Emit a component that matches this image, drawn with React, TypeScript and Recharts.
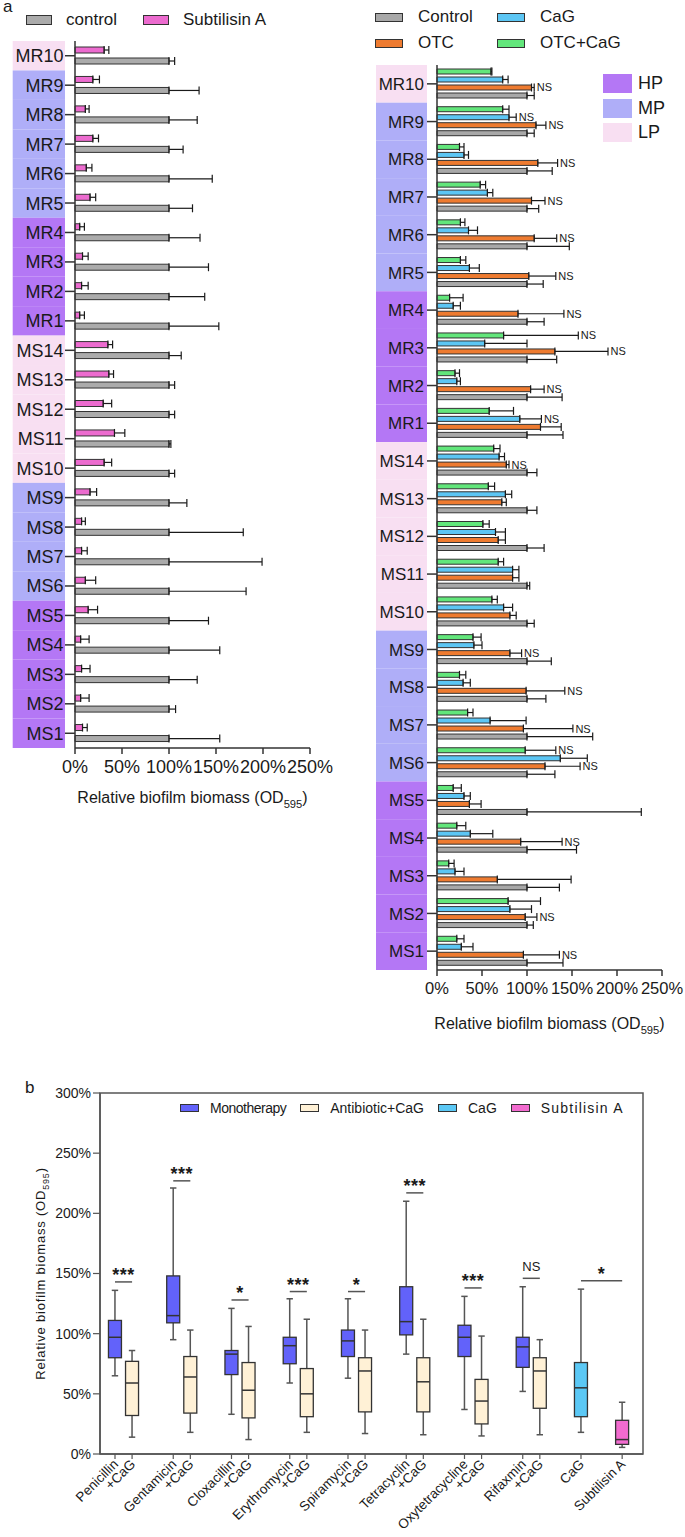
import React from 'react';
import {
  Bar,
  BarChart,
  ComposedChart,
  ErrorBar,
  LabelList,
  Legend,
  ReferenceArea,
  ReferenceLine,
  XAxis,
  YAxis,
} from 'recharts';

const FONT = '"Liberation Sans", Arial, Helvetica, sans-serif';
const INK = '#1a1a1a';
const EDGE = '#333333';

// ---------- panel a : strains, top to bottom ----------
const strains = [
  'MR10', 'MR9', 'MR8', 'MR7', 'MR6', 'MR5', 'MR4', 'MR3', 'MR2', 'MR1',
  'MS14', 'MS13', 'MS12', 'MS11', 'MS10', 'MS9', 'MS8', 'MS7', 'MS6', 'MS5', 'MS4', 'MS3', 'MS2', 'MS1',
];
const highProducers = ['MR4', 'MR3', 'MR2', 'MR1', 'MS5', 'MS4', 'MS3', 'MS2', 'MS1'];
const moderateProducers = ['MR9', 'MR8', 'MR7', 'MR6', 'MR5', 'MS9', 'MS8', 'MS7', 'MS6'];
const tiers = [
  { name: 'HP', color: '#B477F5' },
  { name: 'MP', color: '#AFAEF8' },
  { name: 'LP', color: '#F8DFF2' },
];

// left: control vs Subtilisin A (% of control)
const controlA = [100, 100, 100, 100, 100, 100, 100, 100, 100, 100, 100, 100, 100, 100, 100, 100, 100, 100, 100, 100, 100, 100, 100, 100];
const controlASd = [6, 32, 30, 15, 46, 25, 33, 42, 38, 53, 13, 6, 6, 2, 6, 19, 79, 99, 82, 42, 54, 30, 7, 54];
const subtilisinA = [31, 19, 11, 19, 12, 16, 5, 8, 7, 5, 35, 36, 30, 42, 31, 16, 7, 7, 11, 14, 6, 7, 6, 8];
const subtilisinASd = [5, 7, 4, 6, 6, 6, 5, 6, 7, 5, 5, 5, 9, 11, 8, 7, 4, 6, 11, 10, 9, 9, 9, 5];

// right: control, OTC, CaG, OTC+CaG
const controlB = [100, 100, 100, 100, 100, 100, 100, 100, 100, 100, 100, 100, 100, 100, 100, 100, 100, 100, 100, 100, 100, 100, 100, 100];
const controlBSd = [8, 8, 28, 13, 47, 18, 19, 33, 39, 40, 11, 11, 19, 3, 8, 27, 21, 73, 31, 127, 55, 36, 7, 40];
const otc = [105, 110, 112, 105, 108, 102, 90, 131, 104, 115, 77, 72, 68, 84, 81, 81, 99, 96, 120, 36, 93, 67, 98, 96];
const otcSd = [3, 11, 22, 15, 25, 30, 51, 59, 15, 23, 3, 5, 8, 7, 7, 13, 43, 55, 39, 13, 46, 82, 13, 40];
const cag = [73, 80, 30, 56, 35, 36, 18, 53, 22, 92, 69, 76, 65, 84, 74, 41, 29, 59, 137, 30, 37, 20, 81, 27];
const cagSd = [6, 8, 5, 6, 10, 11, 8, 47, 4, 24, 6, 7, 11, 7, 10, 9, 8, 40, 30, 7, 25, 10, 24, 13];
const otcCag = [60, 73, 25, 48, 26, 26, 14, 74, 20, 58, 63, 57, 51, 68, 61, 40, 25, 34, 98, 18, 22, 13, 79, 22];
const otcCagSd = [1, 7, 5, 6, 5, 6, 15, 83, 5, 27, 7, 7, 7, 6, 6, 9, 7, 6, 34, 9, 10, 6, 36, 8];
const nsOtc = ['MR10', 'MR9', 'MR8', 'MR7', 'MR6', 'MR5', 'MR4', 'MR3', 'MR2', 'MS14', 'MS9', 'MS8', 'MS7', 'MS6', 'MS4', 'MS2', 'MS1'];
const nsCag = ['MR9', 'MR1'];
const nsOtcCag = ['MR3', 'MS6'];

const pctTicks = [0, 50, 100, 150, 200, 250];

// ---------- panel b : box plots ----------
const drugs = ['Penicillin', 'Gentamicin', 'Cloxacillin', 'Erythromycin', 'Spiramycin', 'Tetracyclin', 'Oxytetracycline', 'Rifaxmin'];
const monoMin = [65, 95, 33, 59, 63, 83, 37, 52];
const monoQ1 = [80, 109, 66, 75, 81, 99, 81, 72];
const monoMed = [97, 115, 83, 90, 94, 110, 97, 89];
const monoQ3 = [111, 148, 86, 97, 103, 139, 107, 97];
const monoMax = [136, 221, 121, 129, 129, 210, 131, 139];
const comboMin = [14, 18, 12, 18, 17, 16, 15, 16];
const comboQ1 = [32, 34, 30, 31, 35, 35, 25, 38];
const comboMed = [59, 64, 53, 50, 69, 60, 44, 69];
const comboQ3 = [77, 81, 76, 71, 80, 80, 62, 80];
const comboMax = [86, 103, 106, 112, 103, 112, 98, 95];
// [min, q1, median, q3, max]
const cagAlone = [18, 31, 55, 76, 137];
const subtilisinAlone = [5.5, 8, 12, 28, 43];
const sigMarks = ['***', '***', '*', '***', '*', '***', '***', 'NS', '*'];
const sigHeights = [143, 227, 128, 135, 135, 217, 138, 146, 144];

const boxKinds = [
  { kind: 'mono', name: 'Monotherapy', color: '#6262FA' },
  { kind: 'combo', name: 'Antibiotic+CaG', color: '#FFF1D6' },
  { kind: 'cag', name: 'CaG', color: '#5BC8F5' },
  { kind: 'sub', name: 'Subtilisin A', color: '#F26BCF' },
];

type BoxRow = { key: string; label: string; kind: string; min: number; q1: number; med: number; q3: number; max: number; pos: number };

const GROUP_STEP = 2.41; // gap between groups, in units of the gap inside a pair
const fromTuple = (key: string, kind: string, t: number[]) => ({ key, label: key, kind, min: t[0], q1: t[1], med: t[2], q3: t[3], max: t[4] });
const boxGroups = [
  ...drugs.map((d, i) => [
    { key: d, label: d, kind: 'mono', min: monoMin[i], q1: monoQ1[i], med: monoMed[i], q3: monoQ3[i], max: monoMax[i] },
    { key: `${d} +CaG`, label: '+CaG', kind: 'combo', min: comboMin[i], q1: comboQ1[i], med: comboMed[i], q3: comboQ3[i], max: comboMax[i] },
  ]),
  [fromTuple('CaG', 'cag', cagAlone)],
  [fromTuple('Subtilisin A', 'sub', subtilisinAlone)],
];
const boxRows: BoxRow[] = [];
let cursor = 0;
boxGroups.forEach((g) => {
  g.forEach((b, j) => boxRows.push({ ...b, pos: cursor + j }));
  cursor += g.length - 1 + GROUP_STEP;
});
const posOf = (key: string) => boxRows.find((r) => r.key === key)!.pos;
const sigPairs = [...drugs.map((d) => [d, `${d} +CaG`]), ['CaG', 'Subtilisin A']];
const xMin = -0.878;
const xMax = 30.91;

// ---------- tables ----------
const leftRows = strains.map((s, i) => ({
  strain: s,
  control: controlA[i],
  controlErr: [0, controlASd[i]],
  subtilisin: subtilisinA[i],
  subtilisinErr: [0, subtilisinASd[i]],
}));
const rightRows = strains.map((s, i) => ({
  strain: s,
  control: controlB[i],
  controlErr: [0, controlBSd[i]],
  otc: otc[i],
  otcErr: [0, otcSd[i]],
  cag: cag[i],
  cagErr: [0, cagSd[i]],
  otcCag: otcCag[i],
  otcCagErr: [0, otcCagSd[i]],
}));

const tierColor = (s: string) =>
  highProducers.includes(s) ? tiers[0].color : moderateProducers.includes(s) ? tiers[1].color : tiers[2].color;

function strainTick(bandLeft: number, bandH: number, margin: number, fontSize: number) {
  return (props: any) => {
    const { x, y, payload } = props;
    const right = x + margin;
    return (
      <g>
        <rect x={bandLeft} y={y - bandH / 2} width={right - bandLeft} height={bandH} fill={tierColor(payload.value)} />
        <text x={x} y={y} dy="0.36em" textAnchor="end" fontSize={fontSize} fill={INK} fontFamily={FONT}>
          {payload.value}
        </text>
      </g>
    );
  };
}

function AxisTitle(props: any) {
  const { viewBox, dy = 55, fontSize = 16 } = props;
  const { x, y, width } = viewBox;
  return (
    <text x={x + width / 2} y={y + dy} textAnchor="middle" fontSize={fontSize} fill={INK} fontFamily={FONT}>
      Relative biofilm biomass (OD
      <tspan dy={5} fontSize={fontSize * 0.7}>595</tspan>
      <tspan dy={-5}>)</tspan>
    </text>
  );
}

function nsMarker(values: number[], sd: number[], flagged: string[]) {
  return (props: any) => {
    const { index } = props;
    const vb = props.viewBox ?? props;
    const { x, y, width, height } = vb;
    if (index == null || !flagged.includes(strains[index])) return null;
    const end = x + width + (width / values[index]) * sd[index];
    return (
      <text x={end + 2.5} y={y + height / 2} dy="0.36em" fontSize={11} fill={INK} fontFamily={FONT}>
        NS
      </text>
    );
  };
}

const swatch = (color: string, w: number, h: number, border = true) => (
  <span
    style={{
      display: 'inline-block',
      width: w,
      height: h,
      background: color,
      border: border ? `1px solid ${EDGE}` : 'none',
      boxSizing: 'border-box',
    }}
  />
);

const leftOrder = ['control', 'Subtilisin A'];
function LeftLegend(props: any) {
  const items = [...(props.payload ?? [])].sort((a: any, b: any) => leftOrder.indexOf(a.value) - leftOrder.indexOf(b.value));
  return (
    <div style={{ display: 'flex', alignItems: 'center', height: 18, paddingLeft: 26, fontFamily: FONT }}>
      {items.map((it: any) => (
        <div key={it.value} style={{ display: 'flex', alignItems: 'center', marginRight: 26 }}>
          {swatch(it.color, 26, 10)}
          <span style={{ marginLeft: 14, fontSize: 17, color: INK }}>{it.value}</span>
        </div>
      ))}
    </div>
  );
}

const rightGrid = ['Control', 'CaG', 'OTC', 'OTC+CaG'];
function RightLegend(props: any) {
  const colors = new Map((props.payload ?? []).map((p: any) => [p.value, p.color]));
  return (
    <div style={{ position: 'relative', width: 345, height: 150, fontFamily: FONT }}>
      {rightGrid.map((name, i) => (
        <div
          key={name}
          style={{ position: 'absolute', left: i % 2 === 0 ? 35 : 157, top: i < 2 ? 8 : 34, height: 18, display: 'flex', alignItems: 'center' }}
        >
          {swatch(colors.get(name) as string, 28, 9)}
          <span style={{ marginLeft: 15, fontSize: 17, color: INK }}>{name}</span>
        </div>
      ))}
      {tiers.map((t, i) => (
        <div key={t.name} style={{ position: 'absolute', left: 263, top: 74 + i * 24.5, height: 19, display: 'flex', alignItems: 'center' }}>
          {swatch(t.color, 29, 19, false)}
          <span style={{ marginLeft: 6, fontSize: 18, color: INK }}>{t.name}</span>
        </div>
      ))}
    </div>
  );
}

function BoxLegend() {
  return (
    <div style={{ display: 'flex', alignItems: 'center', height: 16, fontFamily: FONT, fontSize: 14, color: INK }}>
      {boxKinds.map((k) => (
        <div key={k.kind} style={{ display: 'flex', alignItems: 'center', marginRight: 14 }}>
          {swatch(k.color, 19, 8)}
          <span style={{ marginLeft: 11, letterSpacing: k.kind === 'sub' ? 1.2 : k.kind === 'mono' ? -0.5 : 0 }}>{k.name}</span>
        </div>
      ))}
    </div>
  );
}

function BoxShape(props: any) {
  const { x, y, width, height, payload } = props;
  const { q1, q3, med, min, max, kind } = payload;
  const ppu = height / (q3 - q1);
  const cx = x + width / 2;
  const yHi = y - (max - q3) * ppu;
  const yLo = y + height + (q1 - min) * ppu;
  const yMed = y + (q3 - med) * ppu;
  const fill = boxKinds.find((k) => k.kind === kind)!.color;
  const cap = 3.2;
  return (
    <g>
      <line x1={cx} x2={cx} y1={yHi} y2={y} stroke="#555" strokeWidth={1.5} />
      <line x1={cx} x2={cx} y1={y + height} y2={yLo} stroke="#555" strokeWidth={1.5} />
      <line x1={cx - cap} x2={cx + cap} y1={yHi} y2={yHi} stroke="#555" strokeWidth={1.5} />
      <line x1={cx - cap} x2={cx + cap} y1={yLo} y2={yLo} stroke="#555" strokeWidth={1.5} />
      <rect x={x} y={y} width={width} height={height} fill={fill} stroke={EDGE} strokeWidth={1.3} />
      <line x1={x} x2={x + width} y1={yMed} y2={yMed} stroke={EDGE} strokeWidth={1.5} />
    </g>
  );
}

function BoxTick(props: any) {
  const { x, y, payload } = props;
  const row = boxRows.find((r) => Math.abs(r.pos - payload.value) < 1e-6);
  if (!row) return null;
  const ax = x + 4;
  const ay = y + 4;
  return (
    <text x={ax} y={ay} textAnchor="end" transform={`rotate(-45 ${ax} ${ay})`} fontSize={13.5} fill={INK} fontFamily={FONT}>
      {row.label}
    </text>
  );
}

function BoxYTitle(props: any) {
  const { viewBox } = props;
  const cx = 45;
  const cy = viewBox.y + viewBox.height / 2;
  return (
    <text x={cx} y={cy} transform={`rotate(-90 ${cx} ${cy})`} textAnchor="middle" fontSize={13} letterSpacing={0.8} fill={INK} fontFamily={FONT}>
      Relative biofilm biomass (OD
      <tspan dy={4} fontSize={9}>595</tspan>
      <tspan dy={-4}>)</tspan>
    </text>
  );
}

function SigLabel(props: any) {
  const { viewBox, mark } = props;
  const cx = viewBox.x + viewBox.width / 2;
  const star = mark !== 'NS';
  return (
    <text
      x={cx}
      y={viewBox.y - (star ? 0.5 : 7)}
      textAnchor="middle"
      fontSize={star ? 18 : 13}
      fontWeight={star ? 'bold' : 'normal'}
      letterSpacing={star ? 0.5 : 0}
      fill={INK}
      fontFamily={FONT}
    >
      {mark}
    </text>
  );
}

const axisStyle = { stroke: EDGE, strokeWidth: 1.5 };

export default function App() {
  const leftBand = (810 - 41 - 62) / strains.length;
  const rightBand = (1040 - 65 - 70) / strains.length;
  return (
    <div style={{ position: 'absolute', left: 0, top: 0, width: 685, height: 1537, background: '#fff', fontFamily: FONT }}>
      <div style={{ position: 'absolute', left: 3, top: -3, fontSize: 17, color: INK }}>a</div>
      <div style={{ position: 'absolute', left: 25, top: 1078, fontSize: 17, color: INK }}>b</div>

      <div style={{ position: 'absolute', left: 0, top: 0 }}>
        <BarChart
          width={340}
          height={810}
          data={leftRows}
          layout="vertical"
          margin={{ top: 41, right: 30, bottom: 0, left: 0 }}
          barSize={6}
          barGap={5}
          style={{ fontFamily: FONT }}
        >
          <XAxis
            type="number"
            domain={[0, 250]}
            ticks={pctTicks}
            interval={0}
            tickFormatter={(v) => `${v}%`}
            height={62}
            tickSize={6}
            tickMargin={6}
            tick={{ fontSize: 18, fill: INK, fontFamily: FONT }}
            axisLine={axisStyle}
            tickLine={axisStyle}
            label={<AxisTitle dy={55} />}
          />
          <YAxis
            type="category"
            dataKey="strain"
            width={75}
            interval={0}
            tickSize={10}
            tickMargin={1.5}
            tick={strainTick(12.7, leftBand, 1.5, 18)}
            axisLine={axisStyle}
            tickLine={axisStyle}
          />
          <Legend layout="horizontal" verticalAlign="middle" align="center" wrapperStyle={{ top: 11, left: 0, width: 340 }} content={LeftLegend} />
          <Bar dataKey="subtilisin" name="Subtilisin A" fill="#EC6BCF" stroke={EDGE} strokeWidth={1} isAnimationActive={false}>
            <ErrorBar dataKey="subtilisinErr" direction="x" width={4} stroke={INK} strokeWidth={1.2} />
          </Bar>
          <Bar dataKey="control" name="control" fill="#ABABAB" stroke={EDGE} strokeWidth={1} isAnimationActive={false}>
            <ErrorBar dataKey="controlErr" direction="x" width={4} stroke={INK} strokeWidth={1.2} />
          </Bar>
        </BarChart>
      </div>

      <div style={{ position: 'absolute', left: 340, top: 0 }}>
        <BarChart
          width={345}
          height={1040}
          data={rightRows}
          layout="vertical"
          margin={{ top: 65, right: 23, bottom: 0, left: 0 }}
          barSize={5}
          barGap={3}
          style={{ fontFamily: FONT }}
        >
          <XAxis
            type="number"
            domain={[0, 250]}
            ticks={pctTicks}
            interval={0}
            tickFormatter={(v) => `${v}%`}
            height={70}
            tickSize={6}
            tickMargin={6}
            tick={{ fontSize: 16.5, fill: INK, fontFamily: FONT }}
            axisLine={axisStyle}
            tickLine={axisStyle}
            label={<AxisTitle dy={59} />}
          />
          <YAxis
            type="category"
            dataKey="strain"
            width={97}
            interval={0}
            tickSize={10}
            tickMargin={3}
            tick={strainTick(36, rightBand, 3, 17)}
            axisLine={axisStyle}
            tickLine={axisStyle}
          />
          <Legend layout="horizontal" verticalAlign="middle" align="center" wrapperStyle={{ top: 0, left: 0, width: 345 }} content={RightLegend} />
          <Bar dataKey="otcCag" name="OTC+CaG" fill="#62E67B" stroke={EDGE} strokeWidth={1} isAnimationActive={false}>
            <ErrorBar dataKey="otcCagErr" direction="x" width={4} stroke={INK} strokeWidth={1.2} />
            <LabelList dataKey="otcCag" content={nsMarker(otcCag, otcCagSd, nsOtcCag)} />
          </Bar>
          <Bar dataKey="cag" name="CaG" fill="#5CC6F4" stroke={EDGE} strokeWidth={1} isAnimationActive={false}>
            <ErrorBar dataKey="cagErr" direction="x" width={4} stroke={INK} strokeWidth={1.2} />
            <LabelList dataKey="cag" content={nsMarker(cag, cagSd, nsCag)} />
          </Bar>
          <Bar dataKey="otc" name="OTC" fill="#EE7B30" stroke={EDGE} strokeWidth={1} isAnimationActive={false}>
            <ErrorBar dataKey="otcErr" direction="x" width={4} stroke={INK} strokeWidth={1.2} />
            <LabelList dataKey="otc" content={nsMarker(otc, otcSd, nsOtc)} />
          </Bar>
          <Bar dataKey="control" name="Control" fill="#A8A8A8" stroke={EDGE} strokeWidth={1} isAnimationActive={false}>
            <ErrorBar dataKey="controlErr" direction="x" width={4} stroke={INK} strokeWidth={1.2} />
          </Bar>
        </BarChart>
      </div>

      <div style={{ position: 'absolute', left: 0, top: 1075 }}>
        <ComposedChart
          width={685}
          height={462}
          data={boxRows}
          margin={{ top: 18, right: 42, bottom: 0, left: 0 }}
          style={{ fontFamily: FONT }}
        >
          <XAxis
            type="number"
            dataKey="pos"
            domain={[xMin, xMax]}
            allowDataOverflow
            ticks={boxRows.map((r) => r.pos)}
            interval={0}
            height={83}
            tickSize={5}
            tickMargin={2}
            tick={BoxTick}
            axisLine={{ stroke: '#555', strokeWidth: 1.5 }}
            tickLine={{ stroke: '#555', strokeWidth: 1.2 }}
          />
          <YAxis
            type="number"
            domain={[0, 300]}
            ticks={[0, 50, 100, 150, 200, 250, 300]}
            interval={0}
            tickFormatter={(v) => `${v}%`}
            width={100}
            tickSize={7}
            tickMargin={2}
            tick={{ fontSize: 14, fill: INK, fontFamily: FONT }}
            axisLine={{ stroke: '#555', strokeWidth: 1.5 }}
            tickLine={{ stroke: '#555', strokeWidth: 1.2 }}
            label={<BoxYTitle />}
          />
          <ReferenceArea x1={xMin} x2={xMax} y1={0} y2={300} fill="none" stroke="#555" strokeWidth={1.5} ifOverflow="visible" />
          <Legend layout="horizontal" verticalAlign="middle" align="center" wrapperStyle={{ top: 25, left: 180, width: 470 }} content={BoxLegend} />
          <Bar dataKey={(r: BoxRow) => [r.q1, r.q3]} barSize={13} shape={BoxShape} isAnimationActive={false} />
          {sigPairs.map(([a, b], i) => (
            <ReferenceLine
              key={a}
              segment={[
                { x: posOf(a), y: sigHeights[i] },
                { x: posOf(b), y: sigHeights[i] },
              ]}
              stroke="#555"
              strokeWidth={1.5}
              label={<SigLabel mark={sigMarks[i]} />}
            />
          ))}
        </ComposedChart>
      </div>
    </div>
  );
}
